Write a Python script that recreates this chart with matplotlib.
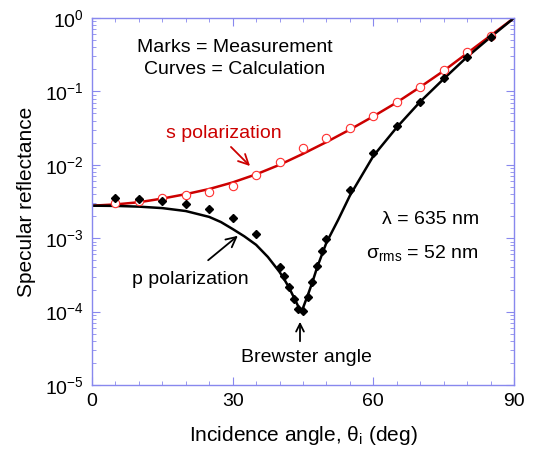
import numpy as np
import matplotlib
matplotlib.use('Agg')
import matplotlib.pyplot as plt
from matplotlib.ticker import MultipleLocator, LogLocator, LogFormatterSciNotation, NullFormatter

plt.rcParams['font.family'] = ['Liberation Sans', 'DejaVu Sans']
plt.rcParams['mathtext.fontset'] = 'custom'
plt.rcParams['mathtext.rm'] = 'Liberation Sans'
plt.rcParams['mathtext.it'] = 'Liberation Sans:italic'
plt.rcParams['mathtext.default'] = 'regular'
plt.rcParams['axes.unicode_minus'] = False

# measured points (marks)
s_angle = [5, 10, 15, 20, 25, 30, 35, 40, 45, 50, 55, 60, 65, 70, 75, 80, 85]
s_meas = [2.99e-3, 3.2e-3, 3.56e-3, 3.84e-3, 4.26e-3, 5.19e-3, 7.26e-3, 0.0110, 0.0168,
          0.0234, 0.032, 0.0467, 0.071, 0.116, 0.196, 0.34, 0.574]

p_angle = [5, 10, 15, 20, 25, 30, 35, 40, 41, 42, 43, 44, 45, 46, 47, 48, 49, 50,
           55, 60, 65, 70, 75, 80, 85]
p_meas = [3.49e-3, 3.39e-3, 3.21e-3, 2.92e-3, 2.50e-3, 1.88e-3, 1.14e-3, 4.09e-4, 3.05e-4,
          2.14e-4, 1.47e-4, 1.07e-4, 1.03e-4, 1.6e-4, 2.5e-4, 4.18e-4, 6.76e-4, 9.85e-4,
          4.54e-3, 0.01435, 0.0338, 0.0724, 0.154, 0.297, 0.546]

# calculated curves (log10 of reflectance)
s_curve_angle = [0, 5, 10, 15, 20, 25, 30, 35, 40, 45, 50, 55, 60, 65, 70, 75, 80, 85, 90]
s_curve_log = [-2.557, -2.54, -2.51, -2.46, -2.40, -2.33, -2.24, -2.13, -2.00, -1.85,
               -1.69, -1.52, -1.34, -1.15, -0.94, -0.72, -0.48, -0.24, 0.0]

p_curve_angle = [0, 5, 10, 15, 20, 25, 27.5, 30, 32.5, 35, 37.5, 40, 41, 42, 43, 44, 44.5,
                 45, 46, 47, 48, 49, 50, 52.5, 55, 57.5, 60, 65, 70, 75, 80, 85, 90]
p_curve_log = [-2.557, -2.560, -2.570, -2.59, -2.63, -2.71, -2.78, -2.875, -2.975, -3.09,
               -3.255, -3.46, -3.56, -3.67, -3.80, -3.93, -3.99, -3.95, -3.78, -3.60,
               -3.40, -3.23, -3.06, -2.75, -2.42, -2.15, -1.88, -1.49, -1.14, -0.83,
               -0.53, -0.26, 0.0]

fig = plt.figure(figsize=(5.35, 4.57), dpi=100)
ax = fig.add_axes([92/535, 1-385/457, 422/535, 367/457])

red = '#cc0000'
ax.plot(s_curve_angle, 10**np.array(s_curve_log), color=red, lw=1.8, zorder=2)
ax.plot(p_curve_angle, 10**np.array(p_curve_log), color='black', lw=1.8, zorder=2)
ax.plot(s_angle, s_meas, 'o', ms=6, mfc='white', mec='#ff3030', mew=0.8, zorder=3)
ax.plot(p_angle, p_meas, 'D', ms=4.2, color='black', zorder=4)

ax.set_yscale('log')
ax.set_xlim(0, 90)
ax.set_ylim(1e-5, 1)

ax.xaxis.set_major_locator(MultipleLocator(30))
ax.xaxis.set_minor_locator(MultipleLocator(5))
ax.yaxis.set_major_locator(LogLocator(base=10, numticks=10))
ax.yaxis.set_minor_locator(LogLocator(base=10, subs=np.arange(2, 10), numticks=20))
ax.yaxis.set_major_formatter(LogFormatterSciNotation())
ax.yaxis.set_minor_formatter(NullFormatter())

tick_col = '#8888ee'
for sp in ax.spines.values():
    sp.set_color(tick_col)
    sp.set_linewidth(1.0)
ax.tick_params(which='both', direction='in', top=True, right=True, color=tick_col,
               labelsize=14, pad=6)
ax.tick_params(which='major', length=6)
ax.tick_params(which='minor', length=3)

ax.set_xlabel(r'Incidence angle, $\theta_i$ (deg)', fontsize=15, labelpad=10)
ax.set_ylabel('Specular reflectance', fontsize=15, labelpad=6)


def px(x, y):
    # pixel position in the picture -> figure fraction
    return (x/535, 1-y/457)


fig.text(*px(235, 47), 'Marks = Measurement', fontsize=14, ha='center', va='center')
fig.text(*px(235, 69), 'Curves = Calculation', fontsize=14, ha='center', va='center')
fig.text(*px(224, 133), 's polarization', fontsize=14, color=red, ha='center', va='center')
fig.text(*px(190, 279), 'p polarization', fontsize=14, ha='center', va='center')
fig.text(*px(306, 358), 'Brewster angle', fontsize=14, ha='center', va='center')
fig.text(*px(479, 219), 'λ = 635 nm', fontsize=14, ha='right', va='center')
fig.text(*px(479, 253), r'σ$_{rms}$ = 52 nm', fontsize=14, ha='right', va='center')

ax.annotate('', xy=px(252, 168), xycoords='figure fraction',
            xytext=px(229, 145), textcoords='figure fraction',
            arrowprops=dict(arrowstyle='->', color=red, lw=1.3, mutation_scale=18))
ax.annotate('', xy=px(240, 234), xycoords='figure fraction',
            xytext=px(206, 262), textcoords='figure fraction',
            arrowprops=dict(arrowstyle='->', color='black', lw=1.3, mutation_scale=18))
ax.annotate('', xy=px(300, 319), xycoords='figure fraction',
            xytext=px(300, 344), textcoords='figure fraction',
            arrowprops=dict(arrowstyle='->', color='black', lw=1.3, mutation_scale=14))

fig.savefig('out.png', dpi=100)
